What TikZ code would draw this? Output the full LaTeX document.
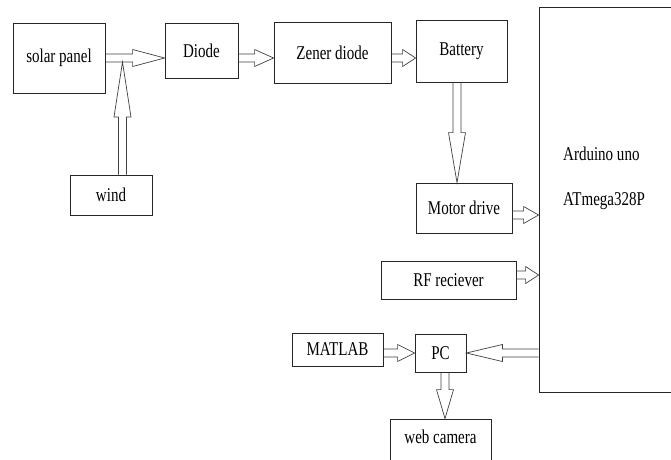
\documentclass[tikz,border=0pt]{standalone}
\usepackage{fontspec}
\setmainfont[FakeStretch=0.77]{Liberation Serif}
\usetikzlibrary{calc}

% hollow block arrow from #2 to #3, head length #1
\newcommand{\fatarrow}[3][15]{%
  \draw [arr] let \p1=(#2), \p2=(#3), \n1={veclen(\x2-\x1,\y2-\y1)}, \n2={atan2(\y2-\y1,\x2-\x1)} in
    [shift={(\p1)}, rotate=\n2] (0pt,-4pt) -- ({\n1-#1pt},-4pt) -- ({\n1-#1pt},-8.5pt) -- (\n1,0pt)
    -- ({\n1-#1pt},8.5pt) -- ({\n1-#1pt},4pt) -- (0pt,4pt);}

\begin{document}
\begin{tikzpicture}[x=1pt,y=-1pt]
\tikzstyle{block} = [draw=black!85,line width=0.8pt,font=\rmfamily\fontsize{19.5}{21}\selectfont,inner sep=0];
\tikzstyle{txt} = [font=\rmfamily\fontsize{19.5}{21}\selectfont,inner sep=0];
\tikzstyle{arr} = [draw=black!75,line width=0.7pt];
\useasboundingbox (0,0) rectangle (671,459);
\clip (0,0) rectangle (671,459);
\node [block,minimum width=92,minimum height=70] (solar) at (59,58) {solar panel};
\node [block,minimum width=82,minimum height=40] (wind) at (111,195) {wind};
\node [block,minimum width=73,minimum height=55] (diode) at (201.5,50.5) {Diode};
\node [block,minimum width=117,minimum height=61] (zener) at (332.5,52.5) {Zener diode};
\node [block,minimum width=91,minimum height=62] (battery) at (461.5,51) {Battery};
\node [block,minimum width=96,minimum height=50] (motor) at (464,208) {Motor drive};
\node [block,minimum width=135,minimum height=38] (rf) at (448.5,280) {RF reciever};
\node [block,minimum width=91,minimum height=33] (matlab) at (337.5,349.5) {MATLAB};
\node [block,minimum width=51,minimum height=38] (pc) at (440.5,353) {PC};
\node [block,minimum width=101,minimum height=50,text depth=14pt] (cam) at (440.5,444) {web camera};
\node [block,minimum width=170,minimum height=385] (ard) at (624,199.5) {};
\node [txt,anchor=base west] (ardname) at (563,160) {Arduino uno};
\node [txt,anchor=base west] (ardchip) at (563,205) {ATmega328P};

\coordinate (windfoot) at ([xshift=11.5pt]wind.north);
\coordinate (windtip) at (windfoot |- solar.east);
\coordinate (motorout) at ([yshift=-7pt]motor.east);
\coordinate (rfout) at ([yshift=5pt]rf.east);
\coordinate (batout) at ([xshift=-4.5pt]battery.south);
\coordinate (pcout) at ([xshift=4.5pt]pc.south);

\fatarrow[32]{solar.east}{solar.east -| diode.west}
\fatarrow[55]{windfoot}{[yshift=-4pt]windtip}
\fatarrow[19]{diode.east |- solar.east}{zener.west |- solar.east}
\fatarrow[13]{zener.east |- solar.east}{battery.west |- solar.east}
\fatarrow[50]{batout}{batout |- motor.north}
\fatarrow[15]{motorout}{motorout -| ard.west}
\fatarrow[13]{rfout}{rfout -| ard.west}
\fatarrow[36]{pc.east -| ard.west}{pc.east}
\fatarrow[17]{matlab.east |- pc.east}{pc.west}
\fatarrow[29]{pcout}{pcout |- cam.north}
\end{tikzpicture}
\end{document}
